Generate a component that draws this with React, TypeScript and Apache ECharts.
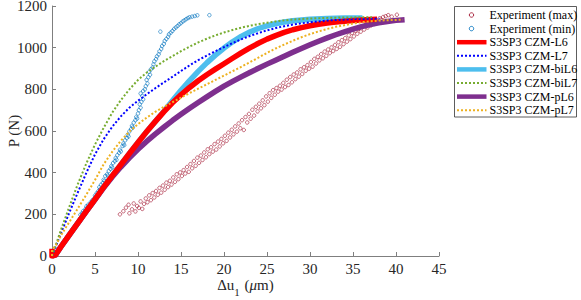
import React, { useEffect, useRef } from "react";
import * as echarts from "echarts";

const xTicks = [0, 5, 10, 15, 20, 25, 30, 35, 40, 45];
const yTicks = [0, 200, 400, 600, 800, 1000, 1200];

const seriesNames = [
  "Experiment (max)",
  "Experiment (min)",
  "S3SP3 CZM-L6",
  "S3SP3 CZM-L7",
  "S3SP3 CZM-biL6",
  "S3SP3 CZM-biL7",
  "S3SP3 CZM-pL6",
  "S3SP3 CZM-pL7",
];

const expMax: [number, number][] = [
  [7.9, 200], [8.3, 215], [8.6, 232], [8.9, 246], [9.0, 205], [9.3, 224], [9.5, 252], [9.7, 214], [9.9, 240],
  [10.1, 231], [10.3, 262], [10.5, 226], [10.7, 250], [10.9, 276], [11.1, 258], [11.3, 291], [11.5, 268],
  [11.7, 302], [11.9, 281], [12.1, 312], [12.3, 294], [12.5, 327], [12.7, 304], [12.9, 338], [13.1, 318],
  [13.3, 352], [13.5, 331], [13.7, 361], [13.9, 343], [14.1, 377], [14.3, 356], [14.5, 392], [14.7, 369],
  [14.9, 401], [15.1, 384], [15.3, 412], [15.5, 396], [15.7, 427], [15.9, 404], [16.1, 441], [16.3, 421],
  [16.5, 456], [16.7, 433], [16.9, 472], [17.1, 447], [17.3, 482], [17.5, 461], [17.7, 497], [17.9, 474],
  [18.1, 512], [18.3, 489], [18.5, 522], [18.7, 501], [18.9, 537], [19.1, 511], [19.3, 549], [19.5, 526],
  [19.7, 562], [19.9, 541], [20.1, 577], [20.3, 553], [20.5, 592], [20.7, 569], [20.9, 606], [21.1, 584],
  [21.3, 622], [21.5, 597], [21.7, 636], [21.9, 613], [22.1, 652], [22.3, 605], [22.5, 667], [22.7, 641],
  [22.9, 682], [23.1, 659], [23.3, 702], [23.5, 674], [23.7, 716], [23.9, 694], [24.1, 731], [24.3, 709],
  [24.5, 747], [24.7, 724], [24.9, 766], [25.1, 741], [25.3, 781], [25.5, 759], [25.7, 796], [25.9, 774],
  [26.1, 806], [26.3, 789], [26.5, 817], [26.7, 799], [26.9, 831], [27.1, 811], [27.3, 846], [27.5, 821],
  [27.7, 859], [27.9, 834], [28.1, 871], [28.3, 849], [28.5, 881], [28.7, 861], [28.9, 896], [29.1, 874],
  [29.3, 906], [29.5, 889], [29.7, 916], [29.9, 899], [30.1, 931], [30.3, 909], [30.5, 946], [30.7, 924],
  [30.9, 956], [31.1, 939], [31.3, 969], [31.5, 949], [31.7, 981], [31.9, 961], [32.1, 991], [32.3, 974],
  [32.5, 1001], [32.7, 984], [32.9, 1013], [33.1, 994], [33.3, 1026], [33.5, 1004], [33.7, 1036], [33.9, 1017],
  [34.1, 1046], [34.3, 1029], [34.5, 1059], [34.7, 1041], [34.9, 1071], [35.1, 1054], [35.3, 1081], [35.5, 1067],
  [35.7, 1091], [35.9, 1077], [36.1, 1101], [36.3, 1087], [36.5, 1111], [36.7, 1097], [36.9, 1119], [37.1, 1107],
  [37.3, 1126], [37.5, 1114], [37.7, 1133], [37.9, 1124], [38.1, 1141], [38.3, 1134], [38.5, 1147], [38.8, 1151],
  [39.1, 1156], [39.5, 1149], [40.1, 1158],
];

const expMin: [number, number][] = [
  [0, 0], [0.1, 6], [0.2, 12],
  [3.3, 198], [3.5, 204], [3.6, 215], [3.8, 212], [3.9, 226], [4.0, 238], [4.1, 230], [4.2, 246], [4.4, 243],
  [4.5, 258], [4.6, 252], [4.7, 268], [4.9, 275], [5.0, 290], [5.1, 284], [5.2, 302], [5.4, 312], [5.5, 330],
  [5.6, 322], [5.7, 342], [5.9, 350], [6.0, 366], [6.1, 360], [6.2, 384], [6.4, 392], [6.5, 386], [6.6, 408],
  [6.8, 418], [6.9, 432], [7.0, 425], [7.1, 446], [7.3, 455], [7.4, 470], [7.5, 462], [7.6, 484], [7.8, 495],
  [7.9, 510], [8.0, 502], [8.2, 528], [8.3, 540], [8.4, 532], [8.5, 555], [8.7, 566], [8.8, 582], [8.9, 574],
  [9.0, 598], [9.2, 610], [9.3, 625], [9.4, 617], [9.5, 640], [9.7, 652], [9.8, 668], [9.9, 660], [10.0, 684],
  [10.1, 700], [10.3, 712], [10.2, 728], [10.4, 740], [10.6, 752], [10.5, 768], [10.3, 780], [10.6, 792],
  [10.8, 800], [10.9, 815], [11.1, 828], [11.0, 845], [11.2, 858], [11.4, 870], [11.3, 884], [11.5, 896],
  [11.7, 905], [11.8, 920], [11.9, 934], [12.1, 945], [12.2, 958], [12.4, 968], [12.5, 982], [12.7, 994],
  [12.8, 1008], [13.0, 1018], [13.1, 1032], [13.3, 1042], [13.5, 1052], [13.6, 1064], [13.8, 1072], [14.0, 1080],
  [14.2, 1090], [14.4, 1097], [14.6, 1104], [14.8, 1112], [15.0, 1118], [15.2, 1126], [15.4, 1131], [15.6, 1137],
  [15.8, 1142], [16.0, 1146], [16.3, 1149], [16.6, 1152], [16.9, 1155], [12.6, 1077], [18.3, 1156],
];

const czmL6: [number, number][] = [
  [0, 35], [0, 0], [0.4, 5], [1, 42], [2, 100], [3, 158], [4, 215], [5, 272], [6, 330], [7, 385], [8, 438],
  [9, 492], [10, 545], [11, 596], [12, 645], [13, 692], [14, 735], [15, 774], [16, 809], [17, 841], [18, 870],
  [19, 897], [20, 923], [21, 949], [22, 975], [23, 999], [24, 1021], [25, 1041], [26, 1058], [27, 1073],
  [28, 1086], [29, 1096], [30, 1105], [31, 1112], [32, 1118], [33, 1123], [34, 1127], [35, 1130], [36, 1133],
  [37, 1135], [37.8, 1136],
];

const czmL7: [number, number][] = [
  [0, 0], [0.5, 52], [1, 105], [2, 207], [3, 305], [4, 400], [5, 488], [6, 560], [7, 620], [8, 670], [9, 712],
  [10, 745], [11, 776], [12, 805], [13, 833], [14, 860], [15, 888], [16, 915], [17, 940], [18, 962], [19, 983],
  [20, 1003], [21, 1022], [22, 1040], [23, 1056], [24, 1070], [25, 1083], [26, 1094], [27, 1103], [28, 1111],
  [29, 1117], [30, 1122], [31, 1126], [32, 1130], [33, 1133], [34, 1135], [35, 1137], [36, 1138], [38.1, 1139],
];

const czmBiL6: [number, number][] = [
  [0, 0], [0.4, 5], [1, 42], [2, 100], [3, 158], [4, 215], [5, 272], [6, 330], [7, 385], [8, 438], [9, 492],
  [10, 545], [11, 596], [12, 645], [13, 694], [14, 745], [15, 795], [16, 842], [17, 886], [18, 927], [19, 964],
  [20, 998], [21, 1028], [22, 1054], [23, 1075], [24, 1092], [25, 1105], [26, 1115], [27, 1123], [28, 1129],
  [30, 1136], [32, 1140], [34, 1142], [36.1, 1143],
];

const czmBiL7: [number, number][] = [
  [0, 0], [0.5, 60], [1, 120], [2, 235], [3, 345], [4, 445], [5, 535], [6, 615], [7, 688], [8, 748], [9, 800],
  [10, 845], [11, 880], [12, 908], [13, 935], [14, 959], [15, 983], [16, 1005], [17, 1025], [18, 1043],
  [19, 1059], [20, 1073], [21, 1085], [22, 1096], [23, 1105], [24, 1113], [25, 1120], [26, 1126], [27, 1131],
  [28, 1135], [30, 1140], [32, 1143], [34, 1145], [37.2, 1146],
];

const czmPL6: [number, number][] = [
  [0, 0], [0.4, 5], [1, 42], [2, 100], [3, 158], [4, 215], [5, 271], [6, 327], [7, 379], [8, 427], [9, 471],
  [10, 512], [11, 550], [12, 585], [13, 618], [14, 650], [15, 680], [16, 709], [17, 737], [18, 764], [19, 790],
  [20, 815], [21, 838], [22, 860], [23, 881], [24, 901], [25, 921], [26, 940], [27, 959], [28, 978], [29, 996],
  [30, 1014], [31, 1031], [32, 1047], [33, 1062], [34, 1076], [35, 1089], [36, 1101], [37, 1111], [38, 1119],
  [39, 1126], [40, 1131], [41, 1134],
];

const czmPL7: [number, number][] = [
  [0, 0], [0, 30], [0.5, 55], [1, 95], [1.5, 130], [2, 162], [3, 228], [4, 295], [5, 365], [6, 440], [7, 500],
  [8, 553], [9, 597], [10, 633], [11, 664], [12, 692], [13, 716], [14, 738], [15, 760], [16, 782], [17, 803],
  [18, 824], [19, 845], [20, 866], [21, 887], [22, 908], [23, 930], [24, 952], [25, 975], [26, 996], [27, 1015],
  [28, 1033], [29, 1050], [30, 1065], [31, 1078], [32, 1090], [33, 1100], [34, 1108], [35, 1116], [36, 1122],
  [37, 1127], [38, 1130], [39, 1132], [40.8, 1134],
];

const FONT = "'Liberation Serif', 'Times New Roman', serif";
const AXIS_COLOR = "#7f7f7f";
const TEXT_COLOR = "#262626";

type Sty = { kind: "scatter" | "line"; color: string; width: number; dotted: boolean };
const styles: Sty[] = [
  { kind: "scatter", color: "#A2142F", width: 0.8, dotted: false },
  { kind: "scatter", color: "#0072BD", width: 0.8, dotted: false },
  { kind: "line", color: "#FF0000", width: 5.5, dotted: false },
  { kind: "line", color: "#0000FF", width: 2, dotted: true },
  { kind: "line", color: "#4DBEEE", width: 5.5, dotted: false },
  { kind: "line", color: "#77AC30", width: 2, dotted: true },
  { kind: "line", color: "#7E2F8E", width: 5.5, dotted: false },
  { kind: "line", color: "#EDB120", width: 2, dotted: true },
];
const datasets = [expMax, expMin, czmL6, czmL7, czmBiL6, czmBiL7, czmPL6, czmPL7];
// drawing order (later = on top)
const drawOrder = [0, 1, 4, 6, 2, 3, 5, 7];

export default function App() {
  const ref = useRef<HTMLDivElement>(null);
  useEffect(() => {
    if (!ref.current) return;
    const chart = echarts.init(ref.current, undefined, { renderer: "svg" });

    const series = drawOrder.map((i) => {
      const s = styles[i];
      if (s.kind === "scatter") {
        return {
          type: "scatter",
          name: seriesNames[i],
          data: datasets[i],
          symbol: "circle",
          symbolSize: 3.5,
          itemStyle: { color: "rgba(255,255,255,0)", borderColor: s.color, borderWidth: s.width },
        };
      }
      return {
        type: "line",
        name: seriesNames[i],
        data: datasets[i],
        symbol: "none",
        showSymbol: false,
        smooth: false,
        lineStyle: { color: s.color, width: s.width, type: s.dotted ? [2, 2] : "solid", cap: "butt", join: "round" },
        itemStyle: { color: s.color },
      };
    });

    // manual legend (MATLAB style box)
    const lx = 454.5;
    const ly = 6.5;
    const rowH = 13.6;
    const legendEls: any[] = [
      {
        type: "rect",
        shape: { x: lx, y: ly, width: 122, height: 110.5 },
        style: { fill: "#ffffff", stroke: "#333333", lineWidth: 0.8 },
        z: 100,
      },
    ];
    seriesNames.forEach((name, i) => {
      const cy = 15 + rowH * i;
      const s = styles[i];
      if (s.kind === "scatter") {
        legendEls.push({
          type: "circle",
          shape: { cx: 471.5, cy, r: 2.2 },
          style: { fill: "none", stroke: s.color, lineWidth: 0.9 },
          z: 101,
        });
      } else {
        legendEls.push({
          type: "line",
          shape: { x1: 457, y1: cy, x2: 486.5, y2: cy },
          style: { stroke: s.color, lineWidth: s.width === 2 ? 2 : 4.5, lineDash: s.dotted ? [2, 2] : null },
          z: 101,
        });
      }
      legendEls.push({
        type: "text",
        x: 489.5,
        y: cy,
        style: { text: name, fontFamily: FONT, fontSize: 12, fill: "#000000", verticalAlign: "middle", align: "left" },
        z: 101,
      });
    });

    chart.setOption({
      animation: false,
      backgroundColor: "#ffffff",
      textStyle: { fontFamily: FONT },
      grid: { left: 52, right: 142, top: 6, bottom: 44, containLabel: false, outerBoundsMode: "none" },
      xAxis: {
        type: "value",
        min: xTicks[0],
        max: xTicks[xTicks.length - 1],
        interval: xTicks[1] - xTicks[0],
        name: "{a|Δu}{b|1}{a| (}{c|μ}{a|m)}",
        nameLocation: "middle",
        nameGap: 21,
        nameMoveOverlap: false,
        nameTextStyle: {
          fontFamily: FONT,
          rich: {
            a: { fontFamily: FONT, fontSize: 15, color: TEXT_COLOR, verticalAlign: "top", lineHeight: 16 },
            b: { fontFamily: FONT, fontSize: 11, color: TEXT_COLOR, verticalAlign: "top", lineHeight: 12, padding: [9, 1, 0, 0] },
            c: { fontFamily: FONT, fontSize: 15, fontStyle: "italic", color: TEXT_COLOR, verticalAlign: "top", lineHeight: 16 },
          },
        },
        axisLine: { show: true, lineStyle: { color: AXIS_COLOR, width: 1 } },
        axisTick: { show: true, inside: true, length: 4, lineStyle: { color: AXIS_COLOR } },
        axisLabel: { fontFamily: FONT, fontSize: 15, color: TEXT_COLOR, margin: 5, formatter: (v: number) => String(v) },
        splitLine: { show: false },
      },
      yAxis: {
        type: "value",
        min: yTicks[0],
        max: yTicks[yTicks.length - 1],
        interval: yTicks[1] - yTicks[0],
        name: "P (N)",
        nameLocation: "middle",
        nameGap: 31,
        nameRotate: 90,
        nameMoveOverlap: false,
        nameTextStyle: { fontFamily: FONT, fontSize: 15, color: TEXT_COLOR },
        axisLine: { show: true, lineStyle: { color: AXIS_COLOR, width: 1 } },
        axisTick: { show: true, inside: true, length: 4, lineStyle: { color: AXIS_COLOR } },
        axisLabel: {
          fontFamily: FONT,
          fontSize: 15,
          lineHeight: 12,
          color: TEXT_COLOR,
          margin: 5,
          formatter: (v: number) => String(v),
        },
        splitLine: { show: false },
      },
      series,
      graphic: legendEls,
    });
    return () => chart.dispose();
  }, []);
  return <div ref={ref} style={{ position: "fixed", left: 0, top: 0, width: 581, height: 300 }} />;
}
